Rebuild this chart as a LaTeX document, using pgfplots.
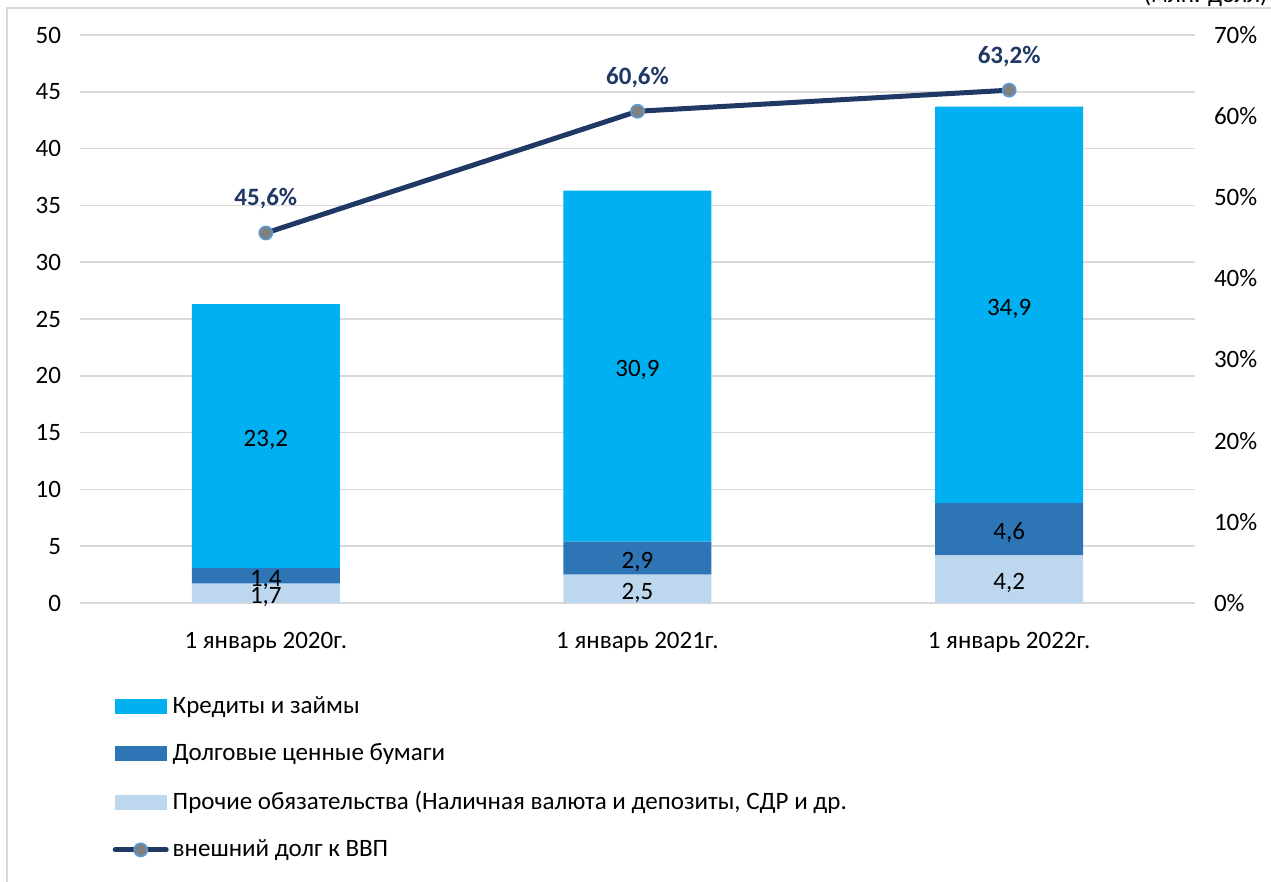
\documentclass[border=0pt]{standalone}
\usepackage{fontspec}
\setmainfont{Carlito}
\usepackage{pgfplots}
\usepackage{pgfplotstable}
\pgfplotsset{compat=1.18}
\definecolor{cred}{HTML}{00B0F0}
\definecolor{cdebt}{HTML}{2E75B6}
\definecolor{coth}{HTML}{BDD7EE}
\definecolor{navy}{HTML}{1F3864}
\definecolor{mkb}{HTML}{5B9BD5}
\definecolor{mkf}{HTML}{808080}
\definecolor{gridc}{HTML}{D9D9D9}
\pgfplotstableread{
x v
0 1.7
1 2.5
2 4.2
}\oth
\pgfplotstableread{
x v
0 1.4
1 2.9
2 4.6
}\debt
\pgfplotstableread{
x v
0 23.2
1 30.9
2 34.9
}\cred
\pgfplotstableread{
x v
0 45.6
1 60.6
2 63.2
}\ratio
\begin{document}
\begin{tikzpicture}
\useasboundingbox (0pt,0pt) rectangle (635.5pt,441pt);
\draw[gridc, line width=0.8pt] (3.5pt,0pt) -- (3.5pt,437pt) -- (640pt,437pt);
\node[anchor=base east, font=\fontsize{12.5}{15}\selectfont, inner sep=0pt] at (634pt,439.5pt) {(млн. долл)};
\begin{axis}[
  at={(40pt,139.5pt)}, anchor=south west,
  width=557.5pt, height=284pt, scale only axis,
  xmin=-0.5, xmax=2.5, ymin=0, ymax=50,
  ytick={0,5,...,50}, xtick={0,1,2},
  xticklabels={1 январь 2020г.,1 январь 2021г.,1 январь 2022г.},
  ybar stacked, bar width=74pt,
  axis line style={draw=none},
  major tick length=0pt,
  ymajorgrids, grid style={gridc, line width=0.8pt},
  tick label style={font=\fontsize{12.5}{15}\selectfont},
  /pgf/number format/assume math mode=true,
  yticklabel style={xshift=-6pt},
  xticklabel style={yshift=-11pt},
  nodes near coords={\pgfmathprintnumber[use comma, fixed, fixed zerofill, precision=1]{\pgfplotspointmeta}},
  nodes near coords style={font=\fontsize{12.5}{15}\selectfont, text=black, anchor=center, yshift=-2pt},
]
\addplot[fill=coth, draw=none] table[x=x,y=v] {\oth};
\addplot[fill=cdebt, draw=none] table[x=x,y=v] {\debt};
\addplot[fill=cred, draw=none] table[x=x,y=v] {\cred};
\end{axis}
\begin{axis}[
  at={(40pt,139.5pt)}, anchor=south west,
  width=557.5pt, height=284pt, scale only axis,
  xmin=-0.5, xmax=2.5, ymin=0, ymax=70,
  ytick={0,10,...,70},
  axis y line*=right, axis x line=none,
  axis line style={draw=none},
  major tick length=0pt,
  tick label style={font=\fontsize{12.5}{15}\selectfont},
  /pgf/number format/assume math mode=true,
  yticklabel={\pgfmathprintnumber{\tick}\%},
  yticklabel style={xshift=6pt},
  legend style={at={(0.029,-0.157)}, anchor=north west, draw=none, fill=none,
    font=\fontsize{12.5}{15}\selectfont, row sep=9.7pt, cells={anchor=west}, inner sep=0pt},
  legend cell align=left,
]
\addlegendimage{legend image code/.code={\fill[cred] (0pt,-3.5pt) rectangle (25.5pt,3.5pt);}}
\addlegendentry{Кредиты и займы}
\addlegendimage{legend image code/.code={\fill[cdebt] (0pt,-3.5pt) rectangle (25.5pt,3.5pt);}}
\addlegendentry{Долговые ценные бумаги}
\addlegendimage{legend image code/.code={\fill[coth] (0pt,-3.5pt) rectangle (25.5pt,3.5pt);}}
\addlegendentry{Прочие обязательства (Наличная валюта и депозиты, СДР и др.}
\addlegendimage{legend image code/.code={\draw[navy, line width=2.5pt, line cap=round] (0pt,0pt) -- (25.5pt,0pt); \filldraw[fill=mkf, draw=mkb, line width=0.8pt] (12.75pt,0pt) circle (3.3pt);}}
\addlegendentry{внешний долг к ВВП}
\addplot[navy, line width=2.5pt, mark=*, mark size=3.3pt,
  mark options={fill=mkf, draw=mkb, line width=0.8pt},
  nodes near coords={\pgfmathprintnumber[use comma, fixed, fixed zerofill, precision=1]{\pgfplotspointmeta}\%},
  nodes near coords style={font=\fontsize{12.5}{15}\selectfont\bfseries, text=navy, anchor=center, yshift=17pt},
  forget plot] table[x=x,y=v] {\ratio};
\end{axis}
\end{tikzpicture}
\end{document}
